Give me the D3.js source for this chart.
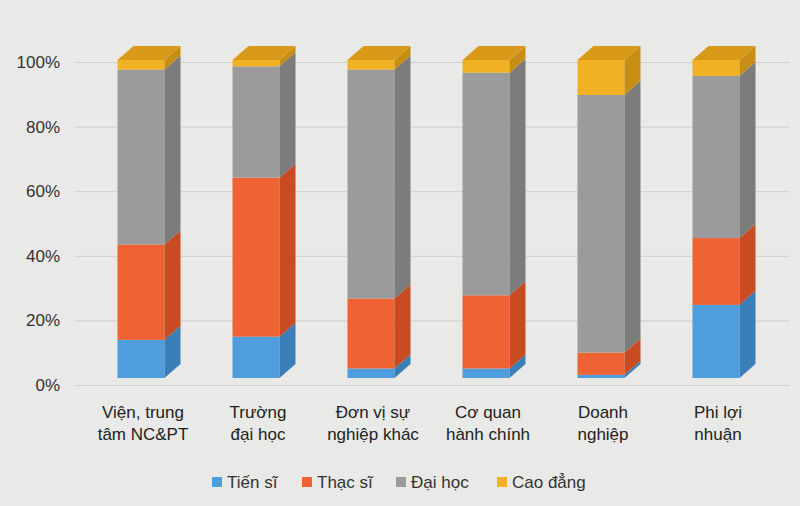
<!DOCTYPE html>
<html><head><meta charset="utf-8">
<script src="https://cdn.jsdelivr.net/npm/d3@7"></script>
<style>body{margin:0;background:#e9e9e7;font-family:"Liberation Sans",Arial,sans-serif}</style>
</head><body><div id="chart"></div>
<script>
// categories (two-line labels) and series shares in %
const categories = ["Viện, trung|tâm NC&PT","Trường|đại học","Đơn vị sự|nghiệp khác","Cơ quan|hành chính","Doanh|nghiệp","Phi lợi|nhuận"];
const seriesNames = ["Tiến sĩ","Thạc sĩ","Đại học","Cao đẳng"];
const tienSi  = [12, 13, 3, 3, 1, 23];
const thacSi  = [30, 50, 22, 23, 7, 21];
const daiHoc  = [55, 35, 72, 70, 81, 51];
const caoDang = [3, 2, 3, 4, 11, 5];
const yTicks = [0, 20, 40, 60, 80, 100];

const colors = ["#4f9ddc","#ef6233","#9b9b9b","#f0b124"];
const sides  = ["#3a7fb8","#c94b22","#7c7c7c","#c88e14"];
const tops   = ["#7ab6e6","#f3845a","#b5b5b5","#d89a18"];

const W = 800, H = 506, dx = 16, dy = -14, bw = 47;
const svg = d3.select("#chart").append("svg").attr("width",W).attr("height",H);

const x = d3.scalePoint().domain(categories).range([141,716]);
const y = d3.scaleLinear().domain([0,100]).range([378,60]);
const yGrid = d3.scaleLinear().domain([0,100]).range([385,62]);

// gridlines + tick labels
const ga = svg.append("g").attr("transform","translate(75,0)")
  .call(d3.axisLeft(yGrid).tickValues(yTicks).tickSize(-715).tickFormat(d => d + "%"));
ga.select(".domain").remove();
ga.selectAll("line").attr("stroke","#cfcfcf");
ga.selectAll("text").attr("x",-15).attr("fill","#333").style("font-size","17px")
  .style("font-family","Liberation Sans, Arial, sans-serif");

const stackData = categories.map((c,i) => ({cat:c, v:[tienSi[i],thacSi[i],daiHoc[i],caoDang[i]]}));

stackData.forEach(d => {
  let acc = 0;
  const x0 = x(d.cat) - bw/2;
  const g = svg.append("g");
  d.v.forEach((v,k) => {
    const yb = y(acc), yt = y(acc + v);
    acc += v;
    g.append("rect").attr("x",x0).attr("y",yt).attr("width",bw).attr("height",yb-yt).attr("fill",colors[k]);
    g.append("polygon").attr("fill",sides[k])
      .attr("points",`${x0+bw},${yb} ${x0+bw+dx},${yb+dy} ${x0+bw+dx},${yt+dy} ${x0+bw},${yt}`);
    if (k === d.v.length - 1) {
      g.append("polygon").attr("fill",tops[k])
        .attr("points",`${x0},${yt} ${x0+dx},${yt+dy} ${x0+bw+dx},${yt+dy} ${x0+bw},${yt}`);
    }
  });
});

// category labels
categories.forEach(c => {
  const t = svg.append("text").attr("text-anchor","middle").attr("fill","#222").style("font-size","17px");
  c.split("|").forEach((ln,j) => {
    t.append("tspan").attr("x", x(c) + 2).attr("y", 418 + j*22).text(ln);
  });
});

// legend
const lx = [212, 302, 396, 497];
seriesNames.forEach((s,k) => {
  svg.append("rect").attr("x",lx[k]).attr("y",477).attr("width",10).attr("height",10).attr("fill",colors[k]);
  svg.append("text").attr("x",lx[k]+15).attr("y",488).attr("fill","#333").style("font-size","17px").text(s);
});
</script></body></html>
